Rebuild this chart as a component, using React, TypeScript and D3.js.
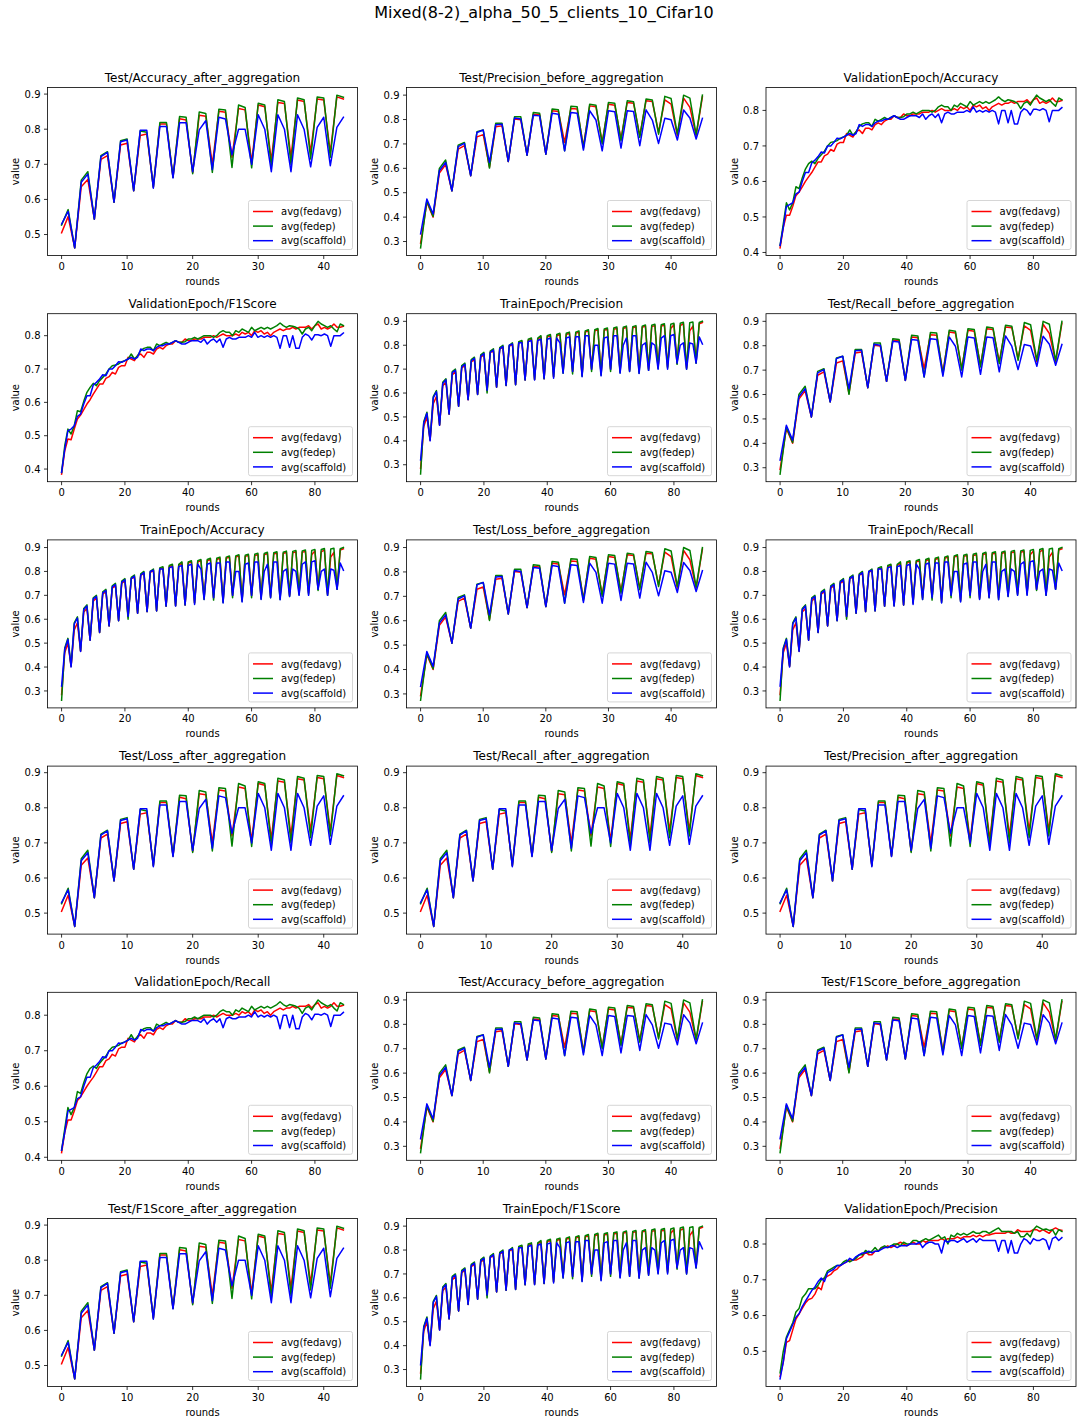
import React from 'react';
import * as d3 from 'd3';

// ---- figure text ----
const FIG_TITLE = 'Mixed(8-2)_alpha_50_5_clients_10_Cifar10';
const SERIES_NAMES = ['avg(fedavg)', 'avg(fedep)', 'avg(scaffold)'];
const SERIES_COLORS = ['#ff0000', '#008000', '#0000ff'];
const X_LABEL = 'rounds';
const Y_LABEL = 'value';

// ---- Test/*_after_aggregation (rounds 0..43) ----
const AFTER_FEDAVG = [0.505,0.551,0.462,0.636,0.657,0.544,0.714,0.725,0.592,0.755,0.760,0.625,0.782,0.786,0.635,0.815,0.815,0.663,0.830,0.826,0.676,0.840,0.837,0.700,0.851,0.848,0.720,0.859,0.855,0.706,0.869,0.864,0.710,0.876,0.873,0.720,0.883,0.879,0.734,0.886,0.883,0.734,0.892,0.886];
const AFTER_FEDEP = [0.527,0.571,0.462,0.655,0.679,0.544,0.725,0.736,0.592,0.767,0.772,0.625,0.795,0.791,0.635,0.819,0.819,0.663,0.836,0.834,0.673,0.849,0.845,0.677,0.857,0.855,0.691,0.869,0.862,0.690,0.874,0.869,0.693,0.884,0.879,0.700,0.889,0.884,0.715,0.892,0.889,0.720,0.897,0.891];
const AFTER_SCAFFOLD = [0.530,0.566,0.462,0.649,0.672,0.544,0.722,0.734,0.592,0.764,0.769,0.625,0.797,0.797,0.632,0.808,0.808,0.661,0.818,0.818,0.679,0.798,0.824,0.685,0.834,0.829,0.727,0.800,0.800,0.700,0.841,0.800,0.679,0.841,0.800,0.679,0.841,0.800,0.693,0.805,0.834,0.696,0.805,0.834];

// ---- Test/*_before_aggregation (rounds 0..45) ----
const BEFORE_FEDAVG = [0.293,0.461,0.400,0.581,0.615,0.508,0.679,0.693,0.570,0.729,0.738,0.605,0.770,0.774,0.628,0.802,0.799,0.654,0.822,0.820,0.658,0.836,0.833,0.706,0.845,0.843,0.690,0.856,0.852,0.706,0.863,0.859,0.720,0.870,0.867,0.734,0.877,0.874,0.747,0.881,0.863,0.734,0.888,0.850,0.734,0.893];
const BEFORE_FEDEP = [0.274,0.467,0.403,0.600,0.634,0.508,0.695,0.706,0.570,0.750,0.757,0.601,0.785,0.785,0.628,0.811,0.811,0.654,0.829,0.826,0.658,0.843,0.840,0.672,0.854,0.852,0.683,0.863,0.859,0.700,0.870,0.867,0.713,0.877,0.873,0.727,0.884,0.880,0.740,0.895,0.886,0.740,0.900,0.888,0.738,0.900];
const BEFORE_SCAFFOLD = [0.331,0.474,0.413,0.590,0.624,0.508,0.689,0.702,0.570,0.747,0.757,0.624,0.779,0.781,0.628,0.806,0.802,0.654,0.818,0.815,0.658,0.826,0.822,0.672,0.829,0.826,0.675,0.836,0.798,0.672,0.836,0.832,0.683,0.836,0.833,0.693,0.840,0.798,0.702,0.805,0.799,0.716,0.839,0.806,0.720,0.805];

// ---- TrainEpoch/* (rounds 0..89) ----
const TRAIN_FEDAVG = [0.285,
  0.460,0.500,0.403, 0.555,0.585,0.466, 0.630,0.645,0.512, 0.675,0.690,0.545, 0.705,0.715,0.572,
  0.730,0.740,0.595, 0.750,0.760,0.610, 0.770,0.775,0.625, 0.785,0.790,0.632, 0.795,0.805,0.636,
  0.810,0.815,0.655, 0.820,0.825,0.657, 0.825,0.835,0.660, 0.835,0.840,0.668, 0.840,0.845,0.690,
  0.845,0.850,0.690, 0.850,0.855,0.675, 0.855,0.860,0.700, 0.860,0.865,0.680, 0.863,0.867,0.700,
  0.867,0.870,0.690, 0.870,0.875,0.695, 0.873,0.877,0.690, 0.875,0.880,0.700, 0.878,0.882,0.708,
  0.880,0.884,0.710, 0.870,0.886,0.725, 0.882,0.890,0.705, 0.860,0.880,0.728, 0.890,0.895];
const TRAIN_FEDEP = [0.261,
  0.480,0.520,0.405, 0.585,0.610,0.468, 0.645,0.660,0.513, 0.690,0.700,0.545, 0.715,0.725,0.573,
  0.740,0.750,0.594, 0.760,0.770,0.600, 0.775,0.785,0.625, 0.790,0.800,0.632, 0.800,0.810,0.635,
  0.815,0.820,0.655, 0.825,0.830,0.657, 0.830,0.840,0.660, 0.840,0.845,0.668, 0.845,0.850,0.683,
  0.850,0.855,0.680, 0.855,0.860,0.670, 0.860,0.865,0.690, 0.865,0.870,0.675, 0.868,0.872,0.690,
  0.872,0.876,0.685, 0.875,0.880,0.690, 0.878,0.882,0.683, 0.880,0.885,0.695, 0.884,0.888,0.703,
  0.886,0.890,0.705, 0.888,0.892,0.720, 0.892,0.896,0.700, 0.894,0.897,0.725, 0.895,0.900];
const TRAIN_SCAFFOLD = [0.320,
  0.475,0.515,0.400, 0.580,0.605,0.465, 0.640,0.655,0.512, 0.685,0.695,0.545, 0.710,0.720,0.572,
  0.735,0.745,0.594, 0.755,0.765,0.612, 0.770,0.780,0.625, 0.785,0.795,0.632, 0.800,0.805,0.635,
  0.810,0.810,0.655, 0.815,0.820,0.655, 0.820,0.825,0.660, 0.825,0.830,0.662, 0.830,0.810,0.683,
  0.830,0.835,0.690, 0.835,0.835,0.668, 0.840,0.840,0.700, 0.800,0.800,0.672, 0.830,0.835,0.700,
  0.840,0.840,0.683, 0.800,0.830,0.690, 0.840,0.840,0.682, 0.800,0.810,0.695, 0.810,0.800,0.700,
  0.830,0.840,0.700, 0.840,0.845,0.725, 0.800,0.810,0.700, 0.810,0.805,0.725, 0.835,0.805];

// ---- ValidationEpoch/Accuracy & Recall (rounds 0..89) ----
const VAL_FEDAVG = [0.413,0.470,0.505,0.505,0.530,0.560,0.570,0.585,0.600,0.613,
  0.625,0.640,0.655,0.655,0.672,0.677,0.690,0.685,0.705,0.710,
  0.710,0.735,0.730,0.725,0.740,0.745,0.735,0.750,0.750,0.745,
  0.760,0.765,0.760,0.770,0.775,0.775,0.785,0.780,0.780,0.790,
  0.785,0.785,0.790,0.790,0.790,0.795,0.795,0.795,0.800,0.795,
  0.800,0.805,0.800,0.800,0.800,0.805,0.800,0.810,0.805,0.810,
  0.800,0.815,0.810,0.815,0.805,0.810,0.800,0.810,0.815,0.820,
  0.815,0.820,0.820,0.825,0.820,0.825,0.825,0.825,0.830,0.820,
  0.830,0.835,0.820,0.825,0.820,0.825,0.835,0.825,0.825,0.828];
const VAL_FEDEP = [0.420,0.480,0.540,0.520,0.540,0.585,0.580,0.610,0.635,0.650,
  0.657,0.650,0.665,0.675,0.685,0.700,0.710,0.712,0.715,0.722,
  0.725,0.730,0.745,0.730,0.740,0.755,0.762,0.765,0.765,0.755,
  0.775,0.770,0.775,0.780,0.775,0.780,0.785,0.780,0.780,0.782,
  0.790,0.790,0.795,0.790,0.795,0.800,0.800,0.800,0.795,0.800,
  0.810,0.815,0.810,0.810,0.800,0.815,0.810,0.820,0.815,0.810,
  0.825,0.815,0.820,0.825,0.820,0.825,0.820,0.825,0.830,0.838,
  0.830,0.825,0.830,0.828,0.825,0.820,0.805,0.820,0.825,0.815,
  0.830,0.843,0.835,0.830,0.825,0.830,0.820,0.812,0.835,0.830];
const VAL_SCAFFOLD = [0.420,0.470,0.530,0.535,0.540,0.565,0.570,0.600,0.625,0.625,
  0.652,0.660,0.670,0.683,0.680,0.700,0.700,0.710,0.722,0.720,
  0.725,0.730,0.735,0.730,0.735,0.760,0.755,0.760,0.760,0.755,
  0.765,0.770,0.770,0.775,0.775,0.780,0.785,0.780,0.775,0.775,
  0.780,0.785,0.785,0.785,0.780,0.790,0.775,0.785,0.790,0.780,
  0.790,0.765,0.790,0.795,0.790,0.790,0.795,0.795,0.795,0.800,
  0.795,0.810,0.795,0.800,0.795,0.800,0.795,0.800,0.795,0.762,
  0.800,0.800,0.765,0.800,0.762,0.762,0.795,0.805,0.800,0.787,
  0.803,0.803,0.800,0.805,0.800,0.768,0.800,0.800,0.800,0.808];

// ---- ValidationEpoch/F1Score: lower start, same later rounds ----
const VALF1_FEDAVG = [0.385,0.455,0.490,0.488,0.520,0.550,0.562,0.578,0.595,0.608, ...VAL_FEDAVG.slice(10)];
const VALF1_FEDEP = [0.390,0.470,0.520,0.505,0.530,0.575,0.572,0.603,0.630,0.645, ...VAL_FEDEP.slice(10)];
const VALF1_SCAFFOLD = [0.390,0.460,0.515,0.520,0.530,0.558,0.565,0.595,0.620,0.620, ...VAL_SCAFFOLD.slice(10)];

// ---- ValidationEpoch/Precision ----
const VALP_FEDAVG = [0.430,0.470,0.525,0.530,0.560,0.590,0.605,0.620,0.635,0.645,
  0.648,0.660,0.680,0.672,0.705,0.710,0.715,0.725,0.730,0.740,
  0.745,0.750,0.755,0.755,0.755,0.760,0.765,0.778,0.770,0.770,
  0.780,0.780,0.790,0.790,0.795,0.790,0.795,0.800,0.805,0.800,
  0.795,0.800,0.805,0.800,0.800,0.810,0.805,0.810,0.810,0.810,
  0.810,0.815,0.810,0.815,0.815,0.815,0.820,0.815,0.820,0.820,
  0.820,0.825,0.820,0.825,0.820,0.825,0.825,0.828,0.830,0.830,
  0.830,0.830,0.835,0.830,0.830,0.840,0.835,0.835,0.835,0.835,
  0.840,0.840,0.835,0.840,0.835,0.830,0.840,0.845,0.840,0.838];
const VALP_FEDEP = [0.440,0.500,0.540,0.560,0.580,0.610,0.620,0.650,0.660,0.675,
  0.675,0.675,0.685,0.700,0.705,0.725,0.730,0.735,0.740,0.740,
  0.750,0.755,0.750,0.755,0.760,0.770,0.770,0.782,0.775,0.780,
  0.790,0.780,0.790,0.795,0.790,0.795,0.800,0.800,0.795,0.805,
  0.800,0.800,0.810,0.810,0.805,0.810,0.815,0.810,0.815,0.820,
  0.825,0.815,0.820,0.800,0.825,0.820,0.830,0.825,0.830,0.825,
  0.830,0.835,0.830,0.830,0.835,0.835,0.830,0.835,0.840,0.845,
  0.835,0.835,0.835,0.835,0.830,0.835,0.820,0.820,0.830,0.820,
  0.840,0.850,0.845,0.840,0.842,0.838,0.840,0.825,0.840,0.835];
const VALP_SCAFFOLD = [0.423,0.470,0.535,0.555,0.575,0.595,0.605,0.625,0.640,0.655,
  0.670,0.680,0.695,0.705,0.695,0.720,0.725,0.730,0.740,0.740,
  0.745,0.750,0.760,0.755,0.765,0.770,0.775,0.775,0.780,0.775,
  0.780,0.780,0.785,0.790,0.790,0.795,0.795,0.790,0.795,0.795,
  0.795,0.800,0.800,0.800,0.805,0.790,0.800,0.805,0.805,0.800,
  0.800,0.775,0.810,0.805,0.810,0.810,0.805,0.810,0.815,0.805,
  0.810,0.815,0.805,0.815,0.810,0.810,0.810,0.810,0.810,0.780,
  0.810,0.810,0.775,0.810,0.775,0.775,0.800,0.815,0.810,0.800,
  0.815,0.810,0.810,0.815,0.810,0.785,0.815,0.820,0.810,0.818];

const AFTER = [AFTER_FEDAVG, AFTER_FEDEP, AFTER_SCAFFOLD];
const BEFORE = [BEFORE_FEDAVG, BEFORE_FEDEP, BEFORE_SCAFFOLD];
const TRAIN = [TRAIN_FEDAVG, TRAIN_FEDEP, TRAIN_SCAFFOLD];
const VAL = [VAL_FEDAVG, VAL_FEDEP, VAL_SCAFFOLD];
const VALF1 = [VALF1_FEDAVG, VALF1_FEDEP, VALF1_SCAFFOLD];
const VALP = [VALP_FEDAVG, VALP_FEDEP, VALP_SCAFFOLD];

// subplot titles, row by row
const PANEL_TITLES = [
  'Test/Accuracy_after_aggregation', 'Test/Precision_before_aggregation', 'ValidationEpoch/Accuracy',
  'ValidationEpoch/F1Score', 'TrainEpoch/Precision', 'Test/Recall_before_aggregation',
  'TrainEpoch/Accuracy', 'Test/Loss_before_aggregation', 'TrainEpoch/Recall',
  'Test/Loss_after_aggregation', 'Test/Recall_after_aggregation', 'Test/Precision_after_aggregation',
  'ValidationEpoch/Recall', 'Test/Accuracy_before_aggregation', 'Test/F1Score_before_aggregation',
  'Test/F1Score_after_aggregation', 'TrainEpoch/F1Score', 'ValidationEpoch/Precision',
];
const PANEL_DATA = [
  AFTER, BEFORE, VAL,
  VALF1, TRAIN, BEFORE,
  TRAIN, BEFORE, TRAIN,
  AFTER, AFTER, AFTER,
  VAL, BEFORE, BEFORE,
  AFTER, TRAIN, VALP,
];

// ---- layout ----
const W = 1077;
const H = 1422;
const COL_LEFT = [47.5, 406.5, 766];
const PLOT_W = 310;
const ROW_TOP0 = 87.5;
const ROW_STEP = 226.2;
const PLOT_H = 168;
const FONT = "'DejaVu Sans', Verdana, sans-serif";
const TICK = 3.5;

function padded(lo: number, hi: number): [number, number] {
  const m = (hi - lo) * 0.05;
  return [lo - m, hi + m];
}

function Panel({ title, series, left, top }: { title: string; series: number[][]; left: number; top: number }) {
  const n = series[0].length;
  const all = series.flat();
  const x = d3.scaleLinear().domain(padded(0, n - 1)).range([left, left + PLOT_W]);
  const y = d3.scaleLinear().domain(padded(d3.min(all)!, d3.max(all)!)).range([top + PLOT_H, top]);
  const xTicks = x.ticks(5).filter((t) => Number.isInteger(t));
  const yTicks = y.ticks(6);
  const fmtY = d3.format('.1f');
  const line = d3.line<number>().x((_, i) => x(i)).y((v) => y(v));
  const bottom = top + PLOT_H;
  const right = left + PLOT_W;
  const clipId = `clip-${Math.round(left)}-${Math.round(top)}`;

  const legW = 104;
  const legH = 49;
  const legX = right - 5 - legW;
  const legY = bottom - 6 - legH;

  return (
    <g>
      <defs>
        <clipPath id={clipId}>
          <rect x={left} y={top} width={PLOT_W} height={PLOT_H} />
        </clipPath>
      </defs>
      <text x={left + PLOT_W / 2} y={top - 6} textAnchor="middle" fontSize={12} fill="#000">{title}</text>
      <g clipPath={`url(#${clipId})`}>
        {series.map((s, k) => (
          <path key={k} d={line(s) || ''} fill="none" stroke={SERIES_COLORS[k]} strokeWidth={1.5}
            strokeLinejoin="round" strokeLinecap="square" />
        ))}
      </g>
      <rect x={left} y={top} width={PLOT_W} height={PLOT_H} fill="none" stroke="#000" strokeWidth={0.8} />
      {xTicks.map((t) => (
        <g key={`x${t}`}>
          <line x1={x(t)} x2={x(t)} y1={bottom} y2={bottom + TICK} stroke="#000" strokeWidth={0.8} />
          <text x={x(t)} y={bottom + 14.5} textAnchor="middle" fontSize={10} fill="#000">{t}</text>
        </g>
      ))}
      {yTicks.map((t) => (
        <g key={`y${t}`}>
          <line x1={left - TICK} x2={left} y1={y(t)} y2={y(t)} stroke="#000" strokeWidth={0.8} />
          <text x={left - 7} y={y(t) + 3.6} textAnchor="end" fontSize={10} fill="#000">{fmtY(t)}</text>
        </g>
      ))}
      <text x={left + PLOT_W / 2} y={bottom + 29.5} textAnchor="middle" fontSize={10} fill="#000">{X_LABEL}</text>
      <text transform={`translate(${left - 28.5},${top + PLOT_H / 2}) rotate(-90)`} textAnchor="middle" fontSize={10} fill="#000">{Y_LABEL}</text>
      <g>
        <rect x={legX} y={legY} width={legW} height={legH} rx={2} ry={2} fill="#fff" fillOpacity={0.8}
          stroke="#cccccc" strokeWidth={0.8} />
        {SERIES_NAMES.map((name, k) => {
          const cy = legY + 11 + k * 14.6;
          return (
            <g key={name}>
              <line x1={legX + 4.5} x2={legX + 24.5} y1={cy} y2={cy} stroke={SERIES_COLORS[k]} strokeWidth={1.5} />
              <text x={legX + 32.5} y={cy + 3.6} fontSize={10} fill="#000">{name}</text>
            </g>
          );
        })}
      </g>
    </g>
  );
}

export default function App() {
  return (
    <svg width={W} height={H} viewBox={`0 0 ${W} ${H}`}
      style={{ position: 'absolute', left: 0, top: 0, background: '#fff', fontFamily: FONT }}>
      <rect x={0} y={0} width={W} height={H} fill="#fff" />
      <text x={544} y={18} textAnchor="middle" fontSize={16} fill="#000">{FIG_TITLE}</text>
      {PANEL_TITLES.map((title, i) => {
        const r = Math.floor(i / 3);
        const c = i % 3;
        return (
          <Panel key={title} title={title} series={PANEL_DATA[i]} left={COL_LEFT[c]} top={ROW_TOP0 + r * ROW_STEP} />
        );
      })}
    </svg>
  );
}
